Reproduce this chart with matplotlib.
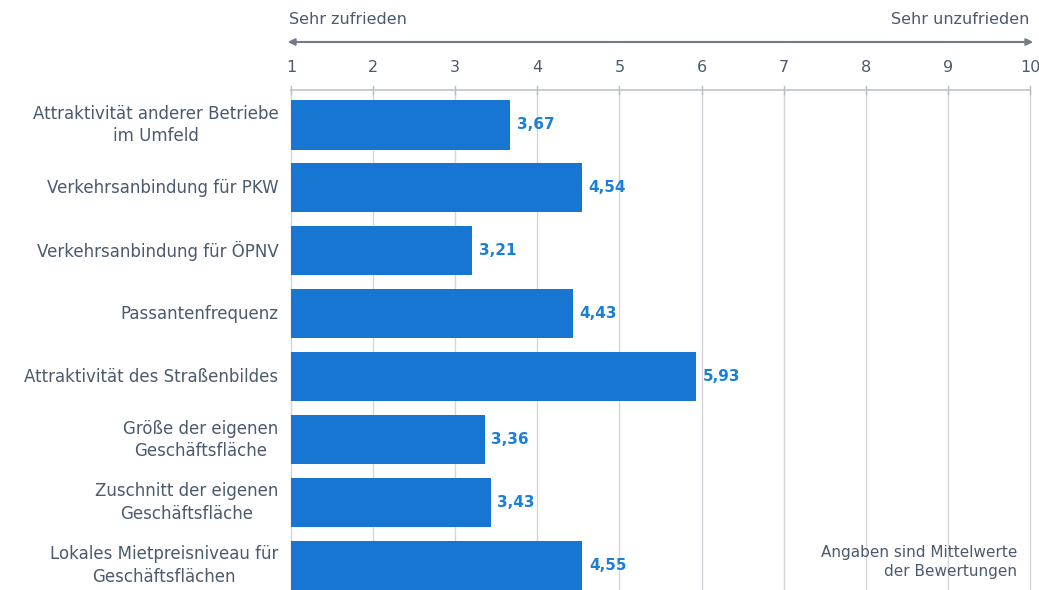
import matplotlib
matplotlib.use("Agg")
import matplotlib.pyplot as plt

categories = [
    "Attraktivität anderer Betriebe\nim Umfeld",
    "Verkehrsanbindung für PKW",
    "Verkehrsanbindung für ÖPNV",
    "Passantenfrequenz",
    "Attraktivität des Straßenbildes",
    "Größe der eigenen\nGeschäftsfläche",
    "Zuschnitt der eigenen\nGeschäftsfläche",
    "Lokales Mietpreisniveau für\nGeschäftsflächen",
]
values = [3.67, 4.54, 3.21, 4.43, 5.93, 3.36, 3.43, 4.55]
tick_values = list(range(1, 11))
value_labels = ["3,67", "4,54", "3,21", "4,43", "5,93", "3,36", "3,43", "4,55"]

W, H = 1039, 590
fig = plt.figure(figsize=(W / 100, H / 100), dpi=100)
plt.rcParams['font.family'] = ['DejaVu Sans']

text_col = "#4b5a6c"
bar_col = "#1776d2"
val_col = "#1a7fd8"
grid_col = "#d2d6dc"

ax = fig.add_axes([291 / W, 0, (1030 - 291) / W, 1 - 90 / H])
ypos = list(range(len(categories)))
ax.barh(ypos, [v - 1 for v in values], left=1, height=0.78, color=bar_col, zorder=3)
for y, v, lab in zip(ypos, values, value_labels):
    ax.text(v + 0.08, y, lab, va="center", ha="left", color=val_col,
            fontsize=11, fontweight="bold", zorder=4)

ax.set_xlim(1, 10)
ax.set_ylim(7.39, -0.556)
for t in tick_values:
    ax.axvline(t, color=grid_col, lw=1.0, zorder=1, clip_on=False)
ax.axhline(-0.556, color="#c4c9d0", lw=1.3, zorder=2, clip_on=False)
for t in tick_values:
    ax.plot([t, t], [-0.62, -0.49], color="#b8bec6", lw=1.0, clip_on=False, zorder=2)

for s in ax.spines.values():
    s.set_visible(False)
ax.set_xticks([])
ax.set_yticks([])

# category labels
for y, c in zip(ypos, categories):
    ax.text(-0.017, y, c, transform=ax.get_yaxis_transform(), ha="right", va="center",
            color=text_col, fontsize=12, multialignment="center", linespacing=1.3)

# top tick labels
for t in tick_values:
    ax.text(t, -0.92, str(t), ha="center", va="center", color=text_col,
            fontsize=11.5, clip_on=False)

# arrow
fig.add_artist(matplotlib.patches.FancyArrowPatch(
    (285 / W, 1 - 42 / H), (1036 / W, 1 - 42 / H), transform=fig.transFigure,
    arrowstyle="<|-|>", mutation_scale=10, color="#737b86", lw=1.5))
fig.text(289 / W, 1 - 20 / H, "Sehr zufrieden", ha="left", va="center",
         color=text_col, fontsize=11.5)
fig.text(1029 / W, 1 - 20 / H, "Sehr unzufrieden", ha="right", va="center",
         color=text_col, fontsize=11.5)

fig.text(1017 / W, 1 - 562 / H, "Angaben sind Mittelwerte\nder Bewertungen", ha="right",
         va="center", color=text_col, fontsize=11, multialignment="right", linespacing=1.3)

fig.savefig("out.png", dpi=100, facecolor="white")
